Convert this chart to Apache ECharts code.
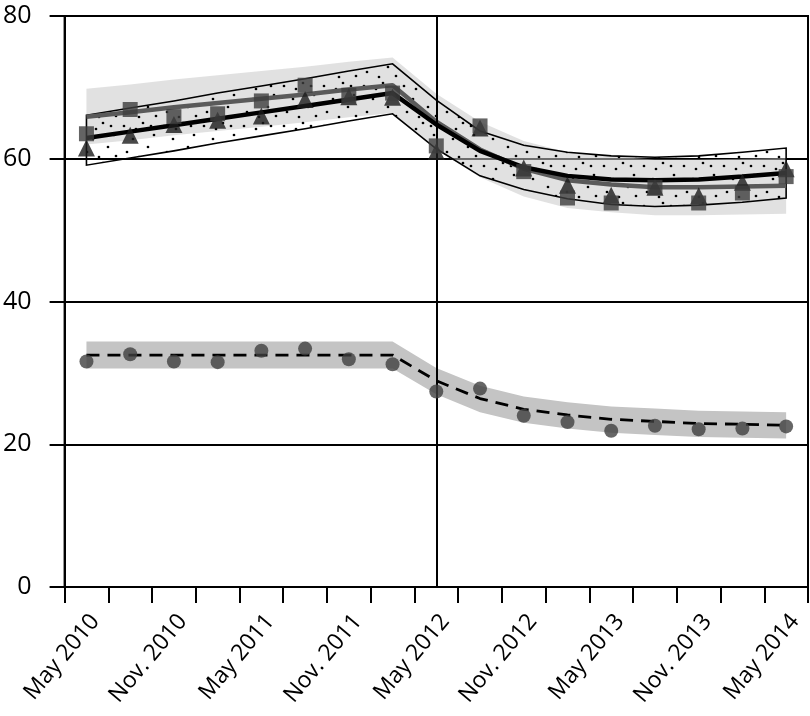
<!DOCTYPE html>
<html><head><meta charset="utf-8">
<script src="https://cdn.jsdelivr.net/npm/echarts@6/dist/echarts.min.js"></script>
<style>html,body{margin:0;padding:0;background:#fff}#c{width:810px;height:716px}</style>
</head><body><div id="c"></div>
<script>
const categories = ['May 2010','Aug. 2010','Nov. 2010','Feb. 2011','May 2011','Aug. 2011','Nov. 2011','Feb. 2012','May 2012','Aug. 2012','Nov. 2012','Feb. 2013','May 2013','Aug. 2013','Nov. 2013','Feb. 2014','May 2014'];
const yTicks = [0, 20, 40, 60, 80];

const squares   = [63.5,66.9,65.9,66.3,68.1,70.3,68.9,69.2,61.8,64.6,58.2,54.5,53.8,56.0,53.8,55.2,57.5];
const triangles = [61.5,63.3,64.8,65.4,66.0,68.3,68.7,68.6,61.0,64.3,58.7,56.3,54.9,56.0,54.8,56.7,58.6];
const circles   = [31.6,32.6,31.6,31.5,33.1,33.4,31.9,31.2,27.4,27.8,24.0,23.1,21.9,22.6,22.1,22.2,22.5];

const squareFit   = [65.9,66.5,67.2,67.8,68.4,69.0,69.7,70.3,65.2,61.3,58.6,57.0,56.4,56.0,56.0,56.1,56.2];
const squareUpper = [69.8,70.4,71.1,71.7,72.3,72.9,73.6,74.2,69.1,65.2,62.5,60.9,60.3,59.9,59.9,60.0,60.1];
const squareLower = [62.0,62.6,63.3,63.9,64.5,65.1,65.8,66.4,61.3,57.4,54.7,53.1,52.5,52.1,52.1,52.2,52.3];

const triangleFit   = [62.9,63.8,64.7,65.6,66.5,67.4,68.3,69.2,64.8,61.1,58.8,57.6,57.1,57.0,57.1,57.5,58.0];
const triangleUpper = [66.1,67.1,68.1,69.2,70.2,71.2,72.3,73.3,68.2,63.9,61.9,60.9,60.4,60.2,60.4,60.9,61.5];
const triangleLower = [59.1,60.1,61.1,62.2,63.2,64.2,65.3,66.3,61.4,57.6,55.7,54.4,53.6,53.3,53.5,53.9,54.5];

const circleFit   = [32.5,32.5,32.5,32.5,32.5,32.5,32.5,32.5,28.9,26.4,24.9,24.1,23.5,23.2,22.9,22.8,22.65];
const circleUpper = [34.4,34.4,34.4,34.4,34.4,34.4,34.4,34.4,30.7,28.2,26.7,25.9,25.3,25.0,24.7,24.6,24.5];
const circleLower = [30.6,30.6,30.6,30.6,30.6,30.6,30.6,30.6,27.0,24.5,23.0,22.2,21.6,21.3,21.0,20.9,20.8];

const FONT = 'Open Sans';

// dotted fill tile
const tile = document.createElement('canvas');
tile.width = 40; tile.height = 40;
const tctx = tile.getContext('2d');
tctx.fillStyle = '#000';
[[4,6],[23,3],[34,15],[13,19],[28,27],[7,32],[19,37],[36,36],[16,9],[31,6]].forEach(function(p){
  tctx.beginPath(); tctx.arc(p[0], p[1], 1.35, 0, Math.PI*2); tctx.fill();
});

function bandSeries(upper, lower, style, z) {
  return {
    type: 'custom',
    z: z,
    silent: true,
    data: [[0, 0]],
    renderItem: function (params, api) {
      const pts = [];
      for (let i = 0; i < upper.length; i++) pts.push(api.coord([i, upper[i]]));
      for (let i = lower.length - 1; i >= 0; i--) pts.push(api.coord([i, lower[i]]));
      return { type: 'polygon', shape: { points: pts }, style: style };
    }
  };
}

const chart = echarts.init(document.getElementById('c'));
chart.setOption({
  animation: false,
  backgroundColor: '#fff',
  grid: { left: 61, right: 2, top: 16, bottom: 129, show: true, borderColor: '#000', borderWidth: 2 },
  xAxis: {
    type: 'category', data: categories, boundaryGap: true,
    axisLine: { lineStyle: { color: '#000', width: 2 } },
    axisTick: { show: true, interval: 0, length: 16, lineStyle: { color: '#000', width: 2 } },
    axisLabel: { interval: 1, rotate: 50, margin: 23, verticalAlign: 'top', fontSize: 23, color: '#000', fontFamily: FONT },
    splitLine: { show: false }
  },
  yAxis: {
    type: 'value', min: yTicks[0], max: yTicks[yTicks.length - 1], interval: 20,
    axisLine: { show: true, lineStyle: { color: '#000', width: 2 } },
    axisTick: { show: true, length: 15, lineStyle: { color: '#000', width: 2 } },
    axisLabel: { margin: 33, fontSize: 25, color: '#000', fontFamily: FONT },
    splitLine: { show: true, lineStyle: { color: '#000', width: 2 } }
  },
  series: [
    bandSeries(squareUpper, squareLower, { fill: 'rgba(200,200,200,0.55)' }, 1),
    bandSeries(triangleUpper, triangleLower, { fill: { image: tile, repeat: 'repeat' }, stroke: '#000', lineWidth: 1.6 }, 2),
    bandSeries(circleUpper, circleLower, { fill: '#c4c4c4' }, 1),
    {
      type: 'line', data: circleFit, z: 3, showSymbol: false, silent: true,
      lineStyle: { color: '#000', width: 2.8, type: [13, 8] },
      markLine: {
        silent: true, symbol: ['none', 'none'], label: { show: false },
        lineStyle: { color: '#000', width: 2, type: 'solid' },
        data: [{ xAxis: 8 }]
      }
    },
    { type: 'line', data: squareFit, z: 4, showSymbol: false, silent: true, lineStyle: { color: '#5a5a5a', width: 4.5 } },
    { type: 'line', data: triangleFit, z: 4, showSymbol: false, silent: true, lineStyle: { color: '#000', width: 4.5 } },
    { type: 'scatter', data: circles, z: 5, symbol: 'circle', symbolSize: 14, itemStyle: { color: '#404040' } },
    { type: 'scatter', data: triangles, z: 5, symbol: 'triangle', symbolSize: [17, 17], itemStyle: { color: '#1c1c1c' } },
    { type: 'scatter', data: squares, z: 6, symbol: 'rect', symbolSize: 15, itemStyle: { color: '#3d3d3d' } }
  ]
});
</script>
</body></html>
